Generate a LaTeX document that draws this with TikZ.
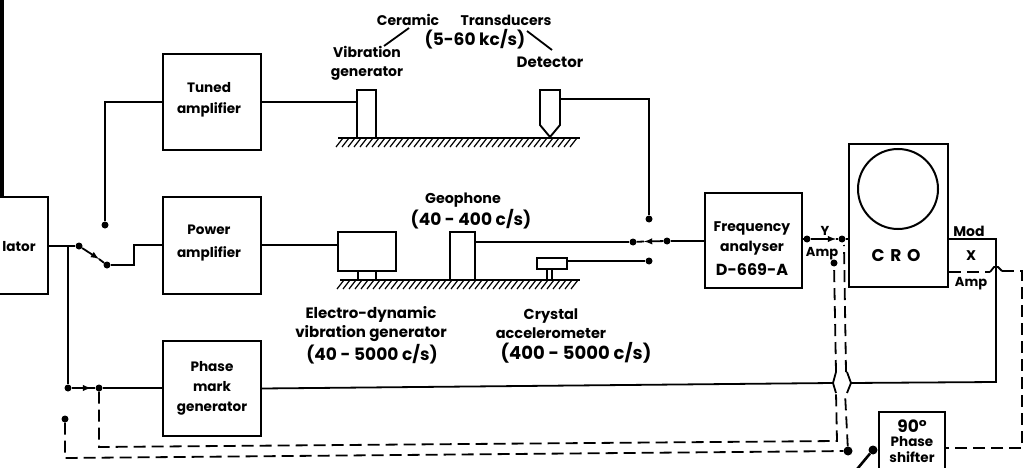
\documentclass[tikz,border=0pt]{standalone}
\usepackage{fontspec}
\setmainfont{Poppins}
\tikzset{
  block/.style={draw, line width=2pt, inner sep=0pt, align=center, font=\bfseries\fontsize{13.6}{20}\selectfont},
  part/.style={draw, line width=1.9pt, inner sep=0pt},
  lbl/.style={inner sep=0pt, align=center, font=\bfseries\fontsize{14.5}{19}\selectfont},
  big/.style={inner sep=0pt, align=center, font=\bfseries\fontsize{17}{17}\selectfont},
  dot/.style={circle, fill=black, inner sep=0pt, minimum size=7pt},
  wire/.style={line width=1.8pt},
  link/.style={line width=1.8pt, dash pattern=on 12pt off 6pt},
  ground/.style={line width=2pt}
}
\begin{document}
\begin{tikzpicture}[x=1pt,y=-1pt]
\useasboundingbox (0,0) rectangle (1025,468);
\clip (0,0) rectangle (1025,468);

% blocks
\node[block, minimum width=136pt, minimum height=97pt] (osc) at (-20,245.5) {};
\node[lbl, font=\bfseries\fontsize{13.6}{20}\selectfont] (osctext) at (19,247) {lator};
\node[block, minimum width=98pt, minimum height=96pt] (tuned) at (212,102) {};
\node[lbl, font=\bfseries\fontsize{13.6}{21}\selectfont] (tunedtext) at (209,100) {Tuned\\amplifier};
\node[block, minimum width=98pt, minimum height=97pt] (power) at (212,245) {};
\node[lbl, font=\bfseries\fontsize{13.6}{23}\selectfont] (powertext) at (209,243) {Power\\amplifier};
\node[block, minimum width=98pt, minimum height=95pt] (mark) at (212,388.5) {Phase\\mark\\generator};
\node[block, minimum width=97pt, minimum height=95pt] (freq) at (753.5,240.5) {};
\node[lbl, font=\bfseries\fontsize{14}{20}\selectfont] (freqtext) at (752,238) {Frequency\\analyser};
\node[lbl, font=\bfseries\fontsize{16}{16}\selectfont] (freqtype) at (752,270) {D-669-A};
\node[block, minimum width=99pt, minimum height=143pt] (cro) at (898.5,215.5) {};
\node[draw, circle, line width=2pt, minimum size=80pt, inner sep=0pt] (screen) at (898,189) {};
\node[big] (crotext) at (896,256) {C\,\,R\,\,O};
\node[block, minimum width=66pt, minimum height=70pt, font=\bfseries\fontsize{13.5}{15}\selectfont] (shifter) at (912,447) {};
\node[lbl, font=\bfseries\fontsize{17}{17}\selectfont] (shift90) at (912,426) {90°};
\node[lbl, font=\bfseries\fontsize{13.5}{16}\selectfont] (shifttext) at (912,450) {Phase\\shifter};

% transducers
\node[part, minimum width=19pt, minimum height=48pt] (vib) at (366.5,114) {};
\node[part, minimum width=58pt, minimum height=39pt] (electro) at (367,251.5) {};
\node[part, minimum width=25pt, minimum height=48pt] (geo) at (462.5,256) {};
\node[part, minimum width=30pt, minimum height=11pt] (accel) at (552,263.5) {};
\coordinate (dtl) at (540,90);
\coordinate (dtr) at (560,90);
\path[draw,line width=1.9pt] (dtl) -- (540,125) -- (550,137) -- (560,125) -- (dtr) -- cycle;
\path[draw,line width=1.9pt] (358,271) -- (358,280);
\path[draw,line width=1.9pt] (376,271) -- (376,280);
\path[draw,line width=1.4pt] (547,269) -- (547,280);
\path[draw,line width=1.4pt] (552,269) -- (552,280);

% ground
\path[draw,ground] (338,138) -- (580,138);
\path[draw,ground] (340,280) -- (580,280);
\foreach \x in {338,344,...,574} {
  \path[draw,line width=1.2pt] (\x+5,138) -- (\x-2,147);
  \path[draw,line width=1.2pt] (\x+6,280) -- (\x-1,289);
}

% labels
\node[lbl, font=\bfseries\fontsize{14}{19}\selectfont] (ceramic) at (408,20) {Ceramic};
\node[lbl, font=\bfseries\fontsize{14}{19}\selectfont] (transducers) at (506,20) {Transducers};
\node[big] (range) at (475,39) {(5-60 kc/s)};
\node[lbl, font=\bfseries\fontsize{14}{19}\selectfont] (vibtext) at (367,63) {Vibration\\generator};
\node[lbl, font=\bfseries\fontsize{15}{19}\selectfont] (dettext) at (550,62) {Detector};
\node[lbl, font=\bfseries\fontsize{14.3}{19}\selectfont] (geotext) at (463,200) {Geophone};
\node[big] (georange) at (471,219) {(40 - 400 c/s)};
\node[lbl, font=\bfseries\fontsize{15}{19}\selectfont] (electext) at (371,324) {Electro-dynamic\\vibration generator};
\node[big] (elecrange) at (372,354) {(40 - 5000 c/s)};
\node[lbl] (acctext) at (551,324) {Crystal\\accelerometer};
\node[big, font=\bfseries\fontsize{18}{18}\selectfont] (accrange) at (576,353) {(400 - 5000 c/s)};
\node[lbl, font=\bfseries\fontsize{13}{13}\selectfont] (ytext) at (825,231) {Y};
\node[lbl, font=\bfseries\fontsize{13}{13}\selectfont] (yamp) at (822,254) {Amp};
\node[lbl, font=\bfseries\fontsize{14}{14}\selectfont] (mod) at (969,231) {Mod};
\node[lbl, font=\bfseries\fontsize{14}{14}\selectfont] (xtext) at (971,256) {X};
\node[lbl, font=\bfseries\fontsize{13}{13}\selectfont] (xamp) at (971,284) {Amp};
\coordinate (cerA) at (409,28);
\coordinate (cerB) at (384,46);
\coordinate (traA) at (527,31);
\coordinate (traB) at (552,50);
\path[draw,wire] (cerA) -- (cerB);
\path[draw,wire] (traA) -- (traB);

% contacts
\node[dot] (s1) at (79,246) {};
\node[dot] (s2) at (107,265) {};
\node[dot] (s3) at (105,225) {};
\node[dot] (j1) at (68,388) {};
\node[dot] (j2) at (99,388) {};
\node[dot] (d1) at (65,419) {};
\node[dot] (r1) at (633,242) {};
\node[dot] (r2) at (667,241) {};
\node[dot] (r3) at (649,219) {};
\node[dot] (r4) at (649,261) {};
\node[dot] (y1) at (807,239) {};
\node[dot] (y2) at (842,239) {};
\node[dot] (y3) at (834,263) {};
\node[dot, minimum size=9pt] (p1) at (848,451) {};
\node[dot, minimum size=9pt] (p2) at (873,450) {};
\coordinate (s1m) at (99,259);
\coordinate (j1m) at (91,388);
\coordinate (r2m) at (644,241.5);
\coordinate (y1m) at (836,239);
\coordinate (oscm) at (68,246);
\coordinate (edge) at (2,0);
\coordinate (edgeb) at (2,197);
\coordinate (p2e) at (853,474);

% solid wires
\path[draw,line width=3.5pt] (edge) -- (edgeb);
\path[draw,wire] (osc.east |- oscm) -- (s1);
\path[draw,wire] (oscm) -- (j1);
\path[draw,wire] (j1) -- (j2) -- (mark.west |- j2);
\path[draw,wire,->,>=latex] (j1) -- (j1m);
\path[draw,wire,->,>=latex] (s1) -- (s1m);
\path[draw,wire] (s1m) -- (s2);
\path[draw,wire] (s2) -- (134,265) -- (134,245) -- (power.west);
\path[draw,wire] (s3) -- (105,102) -- (tuned.west);
\path[draw,wire] (tuned.east) -- (tuned.east -| vib.west);
\path[draw,wire] (power.east) -- (electro.west |- power.east);
\path[draw,wire] (geo.east |- r1) -- (r1);
\path[draw,wire,->,>=latex] (r2) -- (r2m);
\path[draw,wire] (r2m) -- (r1);
\path[draw,wire] (r2) -- (freq.west |- r2);
\path[draw,wire] (dtr |- 0,99) -- (649,99) -- (r3);
\path[draw,wire] (accel.east |- r4) -- (r4);
\path[draw,wire] (freq.east |- y1) -- (y1);
\path[draw,wire,->,>=latex] (y1) -- (y1m);
\path[draw,wire] (y1m) -- (y2) -- (cro.west |- y2);
\path[draw,wire] (cro.east |- 0,239) -- (996,239) -- (996,382) -- (850,383);
\path[draw,wire] (mark.east) -- (833,383);
\path[draw,line width=2.6pt] (p2) -- (p2e);

% crossing over the phase mark line
\path[draw,wire] (836,372) -- (833,383) -- (836,393);
\path[draw,wire] (847,372) -- (851,383) -- (847,393);
\path[draw,wire] (990,272) -- (994,267) -- (998,267) -- (1002,271);

% dashed links
\path[draw,link] (j2) -- (99,447) -- (837,441) -- (836,393);
\path[draw,link] (836,372) -- (y3);
\path[draw,link] (d1) -- (65,458) -- (p1);
\path[draw,link] (p1) -- (845,393);
\path[draw,link] (846,372) -- (844,245);
\path[draw,link] (cro.east |- 0,272) -- (990,272);
\path[draw,link] (1002,271) -- (1022,271) -- (1022,448) -- (shifter.east |- 0,448);
\end{tikzpicture}
\end{document}
